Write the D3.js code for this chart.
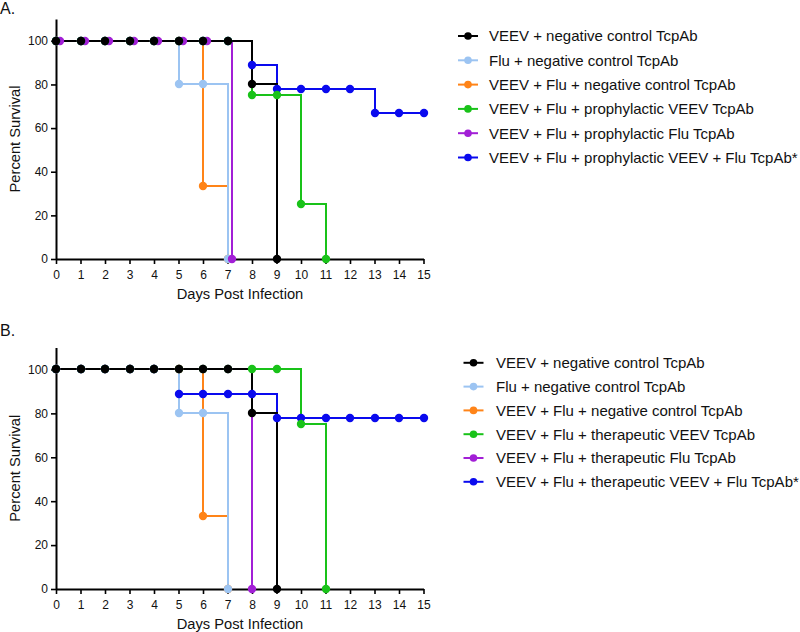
<!DOCTYPE html>
<html><head><meta charset="utf-8">
<script src="https://cdn.jsdelivr.net/npm/d3@7"></script>
<style>
body{margin:0;background:#fff;}
svg{display:block;font-family:"Liberation Sans",Arial,sans-serif;}
</style></head>
<body>
<svg id="chart" width="800" height="632"></svg>
<script>
// ---------- data ----------
const xTicks = [0,1,2,3,4,5,6,7,8,9,10,11,12,13,14,15];
const yTicks = [0,20,40,60,80,100];

// Panel A (prophylactic)
const aBlackDays  = [0,1,2,3,4,5,6,7,8,9];
const aBlackVals  = [100,100,100,100,100,100,100,100,80,0];
const aLBlueDays  = [0,1,2,3,4,5,6,7];
const aLBlueVals  = [100,100,100,100,100,80,80,0];
const aOrangeDays = [0,1,2,3,4,5,6,7];
const aOrangeVals = [100,100,100,100,100,100,33.3,0];
const aGreenDays  = [0,1,2,3,4,5,6,7,8,9,10,11];
const aGreenVals  = [100,100,100,100,100,100,100,100,75,75,25,0];
const aPurpleDays = [0,1,2,3,4,5,6,7];
const aPurpleVals = [100,100,100,100,100,100,100,0];
const aBlueDays   = [0,1,2,3,4,5,6,7,8,9,10,11,12,13,14,15];
const aBlueVals   = [100,100,100,100,100,100,100,100,88.9,77.8,77.8,77.8,77.8,66.7,66.7,66.7];

// Panel B (therapeutic)
const bBlackDays  = [0,1,2,3,4,5,6,7,8,9];
const bBlackVals  = [100,100,100,100,100,100,100,100,80,0];
const bLBlueDays  = [0,1,2,3,4,5,6,7];
const bLBlueVals  = [100,100,100,100,100,80,80,0];
const bOrangeDays = [0,1,2,3,4,5,6,7];
const bOrangeVals = [100,100,100,100,100,100,33.3,0];
const bGreenDays  = [0,1,2,3,4,5,6,7,8,9,10,11];
const bGreenVals  = [100,100,100,100,100,100,100,100,100,100,75,0];
const bPurpleDays = [0,1,2,3,4,5,6,7,8];
const bPurpleVals = [100,100,100,100,100,100,100,100,0];
const bBlueDays   = [0,1,2,3,4,5,6,7,8,9,10,11,12,13,14,15];
const bBlueVals   = [100,100,100,100,100,88.9,88.9,88.9,88.9,77.8,77.8,77.8,77.8,77.8,77.8,77.8];

const aLabels = ["VEEV + negative control TcpAb","Flu + negative control TcpAb","VEEV + Flu + negative control TcpAb",
  "VEEV + Flu + prophylactic VEEV TcpAb","VEEV + Flu + prophylactic Flu TcpAb","VEEV + Flu + prophylactic VEEV + Flu TcpAb*"];
const bLabels = ["VEEV + negative control TcpAb","Flu + negative control TcpAb","VEEV + Flu + negative control TcpAb",
  "VEEV + Flu + therapeutic VEEV TcpAb","VEEV + Flu + therapeutic Flu TcpAb","VEEV + Flu + therapeutic VEEV + Flu TcpAb*"];

const colors = ["#000000","#9cc4f2","#ff8418","#19c219","#a21fd6","#0a0aee"];
const seriesKeys = ["black","lblue","orange","green","purple","blue"];

// ---------- drawing ----------
const svg = d3.select("#chart");
const FONT = "'Liberation Sans',Arial,sans-serif";

function makeSeries(days, vals){ return days.map((d,i)=>({day:d, val:vals[i]})); }

function drawPanel(cfg){
  const g = svg.append("g");
  const x = d3.scaleLinear().domain([0,15]).range([56,423.5]);
  const y = d3.scaleLinear().domain([0,110]).range([cfg.bottom, cfg.top]);
  const X = v => Math.round(x(v));
  const Y = v => Math.round(y(v));

  // panel letter
  g.append("text").attr("x",0).attr("y",cfg.letterY).attr("font-size",16).attr("fill","#111").text(cfg.letter);

  const series = cfg.series.map((s,i)=>({key:seriesKeys[i], color:colors[i], pts:makeSeries(s[0],s[1]), dx:s[2]||0}));
  const line = d3.line().x(d=>d.x).y(d=>d.y).curve(d3.curveStepAfter);

  // line draw order
  const lineOrder = ["blue","green","orange","lblue","purple","black"];
  lineOrder.forEach(k=>{
    const s = series.find(t=>t.key===k);
    const pts = s.pts.map(p=>({x:X(p.day+s.dx), y:Y(p.val)}));
    g.append("path").attr("d", line(pts)).attr("fill","none")
      .attr("stroke", s.color).attr("stroke-width",2);
  });

  // axes
  const xAxis = g.append("g").attr("transform",`translate(0,${Math.round(cfg.bottom)})`)
    .call(d3.axisBottom(x).tickValues(xTicks).tickSize(5).tickPadding(6).tickSizeOuter(0));
  const yAxis = g.append("g").attr("transform",`translate(56,0)`)
    .call(d3.axisLeft(y).tickValues(yTicks).tickSize(5).tickPadding(3).tickSizeOuter(0));
  [xAxis,yAxis].forEach(a=>{
    a.select(".domain").attr("stroke","#000").attr("stroke-width",2);
    a.selectAll(".tick line").attr("stroke","#000").attr("stroke-width",1.6);
    a.selectAll(".tick text").attr("font-size",12).attr("font-family",FONT).attr("fill","#111");
  });

  // markers draw order
  const markOrder = ["orange","lblue","purple","blue","green","black"];
  markOrder.forEach(k=>{
    const s = series.find(t=>t.key===k);
    g.selectAll(null).data(s.pts).enter().append("circle")
      .attr("cx",d=>X(d.day+s.dx)).attr("cy",d=>Y(d.val)).attr("r",4.2).attr("fill",s.color);
  });

  // axis titles
  g.append("text").attr("x",240).attr("y",cfg.bottom+40).attr("text-anchor","middle")
    .attr("font-size",14.7).attr("fill","#111").text("Days Post Infection");
  g.append("text").attr("transform",`translate(20,${(cfg.top+cfg.bottom)/2}) rotate(-90)`)
    .attr("text-anchor","middle").attr("font-size",14.7).attr("fill","#111").text("Percent Survival");

  // legend
  const lg = g.append("g");
  cfg.labels.forEach((lab,i)=>{
    const cy = cfg.legY + i*cfg.legStep;
    lg.append("line").attr("x1",cfg.legX-10).attr("x2",cfg.legX+10).attr("y1",cy).attr("y2",cy)
      .attr("stroke",colors[i]).attr("stroke-width",2);
    lg.append("circle").attr("cx",cfg.legX).attr("cy",cy).attr("r",3.8).attr("fill",colors[i]);
    lg.append("text").attr("x",cfg.legTextX).attr("y",cy+5.3).attr("font-size",15).attr("fill","#111").text(lab);
  });
}

drawPanel({
  letter:"A.", letterY:14, top:19, bottom:259,
  series:[[aBlackDays,aBlackVals],[aLBlueDays,aLBlueVals],[aOrangeDays,aOrangeVals],
          [aGreenDays,aGreenVals],[aPurpleDays,aPurpleVals,0.18],[aBlueDays,aBlueVals]],
  labels:aLabels, legX:468, legTextX:489, legY:36, legStep:24.3
});
drawPanel({
  letter:"B.", letterY:336, top:347.5, bottom:589,
  series:[[bBlackDays,bBlackVals],[bLBlueDays,bLBlueVals],[bOrangeDays,bOrangeVals],
          [bGreenDays,bGreenVals],[bPurpleDays,bPurpleVals],[bBlueDays,bBlueVals]],
  labels:bLabels, legX:473.5, legTextX:496, legY:362.8, legStep:23.8
});
</script>
</body></html>
